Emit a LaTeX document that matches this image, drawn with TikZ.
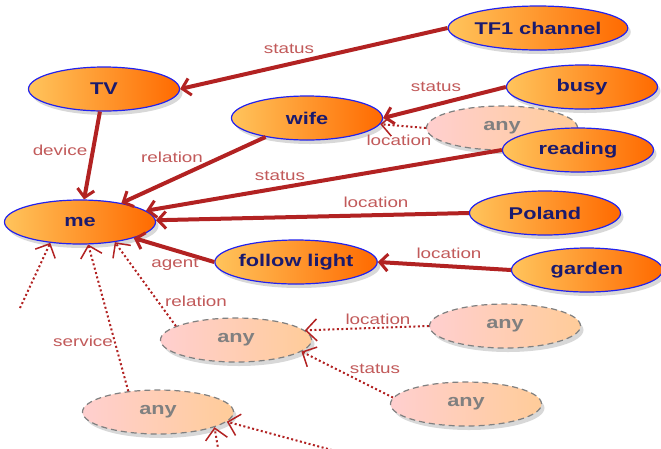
\documentclass[tikz,border=0pt]{standalone}
\usepackage{fontspec}
\setmainfont{Liberation Sans}
\newfontfamily\nodefont[FakeStretch=1.28]{Liberation Sans}
\newfontfamily\lblfont[FakeStretch=1.3]{Liberation Sans}
\usetikzlibrary{shapes.geometric,arrows.meta,shadows}
\definecolor{edgered}{HTML}{B22222}
\definecolor{lblred}{HTML}{C25A5A}
\definecolor{navytxt}{HTML}{1A1A6E}
\definecolor{orL}{HTML}{FFC45C}
\definecolor{orR}{HTML}{FF6A00}
\definecolor{pkL}{HTML}{FFCFCF}
\definecolor{pkR}{HTML}{FFCC99}
\definecolor{anygray}{HTML}{808080}
\definecolor{ellblue}{HTML}{2222EE}
\tikzset{
  concept/.style={ellipse, draw=ellblue, line width=1.2pt, left color=orL, right color=orR,
    minimum width=151pt, minimum height=44pt, inner sep=0pt, text=navytxt,
    font=\nodefont\fontsize{17}{20}\selectfont\bfseries,
    drop shadow={opacity=0.3, shadow xshift=3pt, shadow yshift=-4pt}},
  anynode/.style={ellipse, draw=gray, dash pattern=on 6pt off 4pt, line width=1.2pt,
    left color=pkL, right color=pkR,
    minimum width=151pt, minimum height=44pt, inner sep=0pt, text=anygray,
    font=\nodefont\fontsize{17}{20}\selectfont\bfseries,
    drop shadow={opacity=0.3, shadow xshift=3pt, shadow yshift=-4pt}},
  rel/.style={draw=edgered, line width=4pt, -{Straight Barb[length=8pt,width=17pt,line width=3pt]}},
  dotrel/.style={draw=edgered, line width=2pt, dash pattern=on 2pt off 2.5pt,
    -{Straight Barb[length=11pt,width=22pt,line width=1.5pt]}},
  lbl/.style={text=lblred, font=\lblfont\fontsize{14.5}{16}\selectfont, inner sep=0pt}
}
\begin{document}
\begin{tikzpicture}[x=1pt,y=-1pt]
\useasboundingbox (0,0) rectangle (661,448);
\clip (0,0) rectangle (661,448);
\fill[white] (0,0) rectangle (661,448);
% nodes
\node[concept] (tf1) at (538,28) {TF1 channel};
\node[concept] (tv) at (104,89) {TV};
\node[concept] (busy) at (582,87) {busy};
\node[concept] (wife) at (307,118) {wife};
\node[anynode] (any1) at (502,128) {any};
\node[concept] (reading) at (578,150) {reading};
\node[concept] (poland) at (545,213) {Poland};
\node[concept] (me) at (80,222) {me};
\node[concept] (follow) at (296,262) {follow light};
\node[concept] (garden) at (587,270) {garden};
\node[anynode] (any2) at (236,340) {any};
\node[anynode] (any4) at (505,326) {any};
\node[anynode] (any5) at (466,404) {any};
\node[anynode] (any3) at (158,412) {any};
\coordinate (free1) at (20,308);
\coordinate (free2) at (380,463);
\coordinate (free3) at (220,460);
% solid edges
\draw[rel] (tf1.west) -- (tv.east) node[lbl] (l1) at (289,49) {status};
\draw[rel] (busy.west) -- (wife.east) node[lbl] (l2) at (436,87) {status};
\draw[rel] (tv) -- (me) node[lbl] (l4) at (60,150) {device};
\draw[rel] (wife) -- (me) node[lbl] (l5) at (172,157) {relation};
\draw[rel] (reading.west) -- (me) node[lbl] (l6) at (280,176) {status};
\draw[rel] (poland.west) -- (me) node[lbl] (l7) at (376,202) {location};
\draw[rel] (follow.west) -- (me) node[lbl] (l8) at (175,264) {agent};
\draw[rel] (garden.west) -- (follow.east) node[lbl] (l9) at (449,253) {location};
% dotted edges
\draw[dotrel] (any1.west) -- (wife) node[lbl] (l3) at (399,140) {location};
\draw[dotrel] (any2.167) -- (me.-30) node[lbl] (l10) at (196,301) {relation};
\draw[dotrel] (any3.145) -- (me.-70) node[lbl] (l11) at (83,341) {service};
\draw[dotrel] (free1) -- (me.-145);
\draw[dotrel] (any4.west) -- (any2.8) node[lbl] (l12) at (378,319) {location};
\draw[dotrel] (any5.175) -- (any2.-10) node[lbl] (l13) at (375,369) {status};
\draw[dotrel] (free2) -- (any3.-8);
\draw[dotrel] (free3) -- (any3.-15);
\end{tikzpicture}
\end{document}
